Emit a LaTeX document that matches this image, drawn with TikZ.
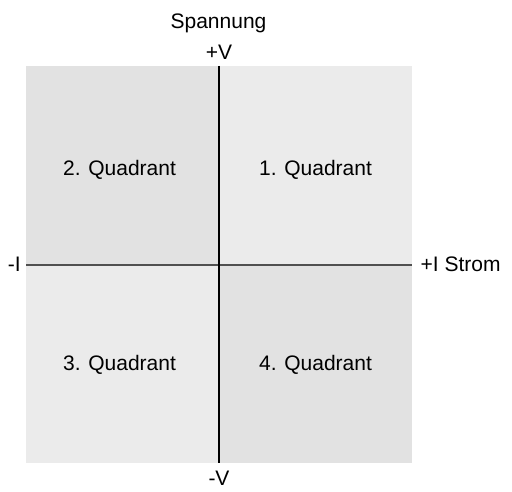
\documentclass[tikz,border=0pt]{standalone}
\usepackage{fontspec}
\setmainfont{Liberation Sans}
\definecolor{qdark}{HTML}{E2E2E2}
\definecolor{qlight}{HTML}{EBEBEB}
\definecolor{haxis}{HTML}{505050}
\begin{document}
\begin{tikzpicture}[x=1pt,y=-1pt,
  lbl/.style={font=\fontsize{21}{24}\selectfont, inner sep=0pt, text=black},
  quad/.style={draw=none}]
\useasboundingbox (0,0) rectangle (512,492);
\fill[white] (0,0) rectangle (512,492);
% quadrants
\fill[qdark]  (26,66) rectangle (219,265);
\fill[qlight] (219,66) rectangle (412,265);
\fill[qlight] (26,265) rectangle (219,463);
\fill[qdark]  (219,265) rectangle (412,463);
% axis end points
\coordinate (L) at (26,265);
\coordinate (R) at (412,265);
\coordinate (T) at (219,66);
\coordinate (B) at (219,463);
\draw[haxis, line width=1.5pt] (L) -- (R);
\draw[black, line width=1.5pt] (T) -- (B);
% labels
\node[lbl, anchor=base] (span) at (218.5,29) {Spannung};
\node[lbl, anchor=base] (pv) at (219,60) {+V};
\node[lbl, anchor=base] (mv) at (219,485) {-V};
\node[lbl, anchor=base east] (mi) at (21,272) {-I};
\node[lbl, anchor=base west] (pi) at (420.5,272) {+I Strom};
\node[lbl, anchor=base] (q2) at (119.5,176) {2. Quadrant};
\node[lbl, anchor=base] (q1) at (315.5,176) {1. Quadrant};
\node[lbl, anchor=base] (q3) at (119.5,370) {3. Quadrant};
\node[lbl, anchor=base] (q4) at (315.5,370) {4. Quadrant};
\end{tikzpicture}
\end{document}
